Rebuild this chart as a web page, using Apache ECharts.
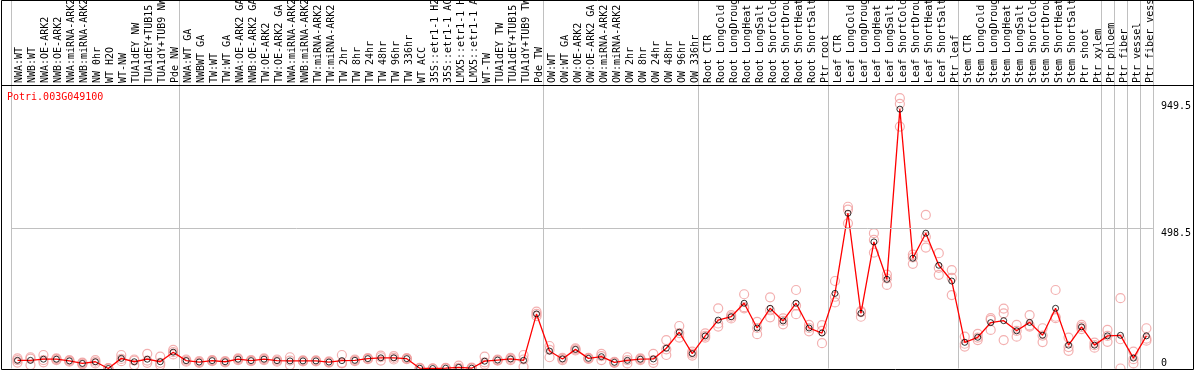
<!DOCTYPE html>
<html>
<head>
<meta charset="utf-8">
<script src="https://cdn.jsdelivr.net/npm/echarts@6/dist/echarts.min.js"></script>
<style>
html, body { margin: 0; padding: 0; background: #fff; }
#chart { width: 1194px; height: 370px; }
</style>
</head>
<body>
<div id="chart"></div>
<script>
// gene shown in the panel
var geneName = 'Potri.003G049100';

// sample labels, left to right
var categories = [
	'NWA:WT', 'NWB:WT', 'NWA:OE-ARK2', 'NWB:OE-ARK2', 'NWA:miRNA-ARK2', 'NWB:miRNA-ARK2', 'NW 0hr', 'WT H2O', 'WT-NW',
	'TUA1dEY NW', 'TUA1dEY+TUB15 NW', 'TUA1dY+TUB9 NW', 'Pde NW',
	'NWA:WT GA', 'NWBWT GA', 'TW:WT', 'TW:WT GA', 'NWA:OE-ARK2 GA', 'NWB:OE-ARK2 GA', 'TW:OE-ARK2', 'TW:OE-ARK2 GA',
	'NWA:miRNA-ARK2', 'NWB:miRNA-ARK2', 'TW:miRNA-ARK2', 'TW:miRNA-ARK2', 'TW 2hr', 'TW 8hr', 'TW 24hr', 'TW 48hr',
	'TW 96hr', 'TW 336hr', 'WT ACC', '35S::etr1-1 H2O', '35S::etr1-1 ACC', 'LMX5::etr1-1 H2O', 'LMX5::etr1-1 ACC',
	'WT-TW', 'TUA1dEY TW', 'TUA1dEY+TUB15 TW', 'TUA1dY+TUB9 TW', 'Pde TW',
	'OW:WT', 'OW:WT GA', 'OW:OE-ARK2', 'OW:OE-ARK2 GA', 'OW:miRNA-ARK2', 'OW:miRNA-ARK2', 'OW 2hr', 'OW 8hr',
	'OW 24hr', 'OW 48hr', 'OW 96hr', 'OW 336hr',
	'Root CTR', 'Root LongCold', 'Root LongDrought', 'Root LongHeat', 'Root LongSalt', 'Root ShortCold',
	'Root ShortDrought', 'Root ShortHeat', 'Root ShortSalt', 'Ptr root',
	'Leaf CTR', 'Leaf LongCold', 'Leaf LongDrought', 'Leaf LongHeat', 'Leaf LongSalt', 'Leaf ShortCold',
	'Leaf ShortDrought', 'Leaf ShortHeat', 'Leaf ShortSalt', 'Ptr leaf',
	'Stem CTR', 'Stem LongCold', 'Stem LongDrought', 'Stem LongHeat', 'Stem LongSalt', 'Stem ShortCold',
	'Stem ShortDrought', 'Stem ShortHeat', 'Stem ShortSalt', 'Ptr shoot', 'Ptr xylem',
	'Ptr phloem', 'Ptr fiber', 'Ptr vessel', 'Ptr fiber vessel'
];

// index of the first sample of each experiment group
var groupStarts = [0, 13, 41, 53, 63, 73, 84, 85, 86, 87];

// mean expression per sample
var means = [
	29, 29, 33, 33, 27, 18, 24, 0, 36, 24, 33, 24, 58,
	28, 23, 28, 24, 33, 28, 33, 28, 27, 27, 27, 23, 28, 29, 35, 38, 38, 35, 1, 0, 1, 4, 1, 26, 30, 34, 29, 194,
	62, 34, 68, 36, 42, 22, 29, 33, 34, 72, 129, 53,
	116, 172, 184, 232, 144, 214, 169, 232, 144, 126,
	267, 552, 196, 450, 317, 922, 392, 481, 367, 311,
	93, 111, 163, 170, 134, 164, 118, 214, 83, 148, 83,
	116, 118, 37, 116
];

// replicates
var rep1 = [
	21, 12, 22, 30, 24, 15, 18, 0, 26, 12, 20, 12, 50,
	24, 20, 26, 22, 30, 26, 30, 24, 12, 25, 25, 21, 18, 26, 33, 28, 32, 33, 0, 0, 0, 0, 0, 14, 28, 30, 6, 186,
	40, 30, 64, 34, 30, 20, 18, 30, 20, 48, 110, 46,
	110, 149, 178, 214, 122, 182, 157, 193, 132, 90,
	235, 516, 184, 412, 297, 860, 372, 430, 333, 261,
	78, 101, 137, 101, 113, 149, 94, 179, 63, 140, 74,
	95, 0, 18, 99
];
var rep2 = [
	30, 35, 30, 33, 27, 18, 24, 0, 34, 28, 28, 20, 58,
	28, 23, 28, 24, 33, 28, 33, 28, 28, 27, 27, 23, 20, 29, 35, 40, 38, 35, 1, 0, 1, 2, 1, 22, 30, 34, 32, 194,
	66, 34, 68, 36, 44, 22, 30, 33, 30, 68, 126, 53,
	116, 160, 184, 218, 144, 207, 169, 224, 144, 134,
	255, 565, 200, 457, 320, 941, 395, 468, 358, 322,
	88, 110, 173, 196, 134, 153, 117, 184, 76, 148, 83,
	116, 104, 33, 106
];
var rep3 = [
	36, 40, 48, 36, 30, 21, 30, 1, 48, 32, 52, 42, 66,
	32, 26, 30, 26, 36, 30, 36, 32, 40, 29, 29, 25, 48, 32, 37, 46, 44, 37, 2, 0, 2, 10, 3, 42, 32, 38, 48, 202,
	80, 38, 72, 38, 52, 24, 40, 36, 52, 101, 151, 60,
	125, 214, 190, 264, 166, 253, 178, 279, 155, 154,
	311, 575, 204, 481, 334, 961, 405, 546, 410, 350,
	113, 123, 179, 213, 155, 190, 143, 279, 110, 155, 92,
	137, 250, 60, 143
];

// value axis (the plot runs up through the label strip, data never gets there)
var yMax = 1310;
var yLabelValues = [498.5, 949.5];
var yBottomLabel = [0];
var gridLineValues = [498.5];

var FONT = 'DejaVu Sans Mono';
var GREY = '#c0c0c0';

var replicatePoints = [];
[rep1, rep2, rep3].forEach(function (rep) {
	rep.forEach(function (v, i) {
		replicatePoints.push([i, v]);
	});
});

function isGroupStart(index) {
	return groupStarts.indexOf(index) >= 0;
}

var chart = echarts.init(document.getElementById('chart'));

var option = {
	animation: false,
	backgroundColor: '#fff',
	title: {
		text: geneName,
		left: 7,
		top: 92,
		padding: 0,
		textStyle: { color: '#ff0000', fontFamily: FONT, fontSize: 10, fontWeight: 'normal' }
	},
	grid: [
		// label strip
		{ left: 13, right: 37, top: 0, height: 85 },
		// plot
		{ left: 11, right: 39, top: 0, bottom: 1.5 }
	],
	xAxis: [
		{
			gridIndex: 0,
			type: 'category',
			data: categories,
			boundaryGap: true,
			axisLine: { show: false },
			axisTick: { show: false },
			splitLine: { show: false },
			axisLabel: {
				inside: true, rotate: 90, interval: 0, margin: 2,
				fontFamily: FONT, fontSize: 10, color: '#000'
			}
		},
		{
			gridIndex: 1,
			type: 'category',
			data: categories,
			boundaryGap: true,
			axisLine: { show: false },
			axisTick: { show: false },
			axisLabel: { show: false },
			splitLine: { show: true, interval: isGroupStart, lineStyle: { color: GREY, width: 1 } }
		}
	],
	yAxis: [
		{
			gridIndex: 0, type: 'value', min: 0, max: 1, show: false
		},
		{
			gridIndex: 1, type: 'value', min: 0, max: yMax, position: 'right',
			axisLine: { show: true, lineStyle: { color: GREY } },
			axisTick: { show: false }, splitLine: { show: false },
			axisLabel: {
				customValues: yLabelValues, verticalAlign: 'top', margin: 8,
				fontFamily: FONT, fontSize: 10, color: '#000'
			}
		},
		{
			gridIndex: 1, type: 'value', min: 0, max: yMax, position: 'right',
			axisLine: { show: false }, axisTick: { show: false }, splitLine: { show: false },
			axisLabel: {
				customValues: yBottomLabel, verticalAlign: 'bottom', margin: 8,
				fontFamily: FONT, fontSize: 10, color: '#000'
			}
		}
	],
	series: [
		{
			type: 'scatter',
			xAxisIndex: 1, yAxisIndex: 1,
			data: replicatePoints,
			symbol: 'circle', symbolSize: 9,
			itemStyle: { color: 'transparent', borderColor: '#f09c9c', borderWidth: 1.2 },
			silent: true, z: 2
		},
		{
			type: 'line',
			xAxisIndex: 1, yAxisIndex: 1,
			data: means,
			symbol: 'circle', symbolSize: 10,
			lineStyle: { color: '#ff0000', width: 1.3 },
			itemStyle: { color: 'transparent', borderColor: '#ff0000', borderWidth: 2 },
			silent: true, z: 3,
			markLine: {
				silent: true, symbol: 'none', label: { show: false },
				lineStyle: { color: GREY, type: 'solid', width: 1 },
				data: gridLineValues.map(function (v) { return { yAxis: v }; })
			}
		},
		{
			type: 'scatter',
			xAxisIndex: 1, yAxisIndex: 1,
			data: means,
			symbol: 'circle', symbolSize: 6,
			itemStyle: { color: 'transparent', borderColor: '#000', borderWidth: 1 },
			silent: true, z: 4
		}
	],
	graphic: [
		{ type: 'rect', silent: true, z: 100, shape: { x: 1.5, y: 0.5, width: 1192, height: 369 }, style: { fill: null, stroke: '#000', lineWidth: 1 } },
		{ type: 'line', silent: true, z: 100, shape: { x1: 1, y1: 85.5, x2: 1193, y2: 85.5 }, style: { stroke: '#000', lineWidth: 1 } }
	]
};

chart.setOption(option);
</script>
</body>
</html>
